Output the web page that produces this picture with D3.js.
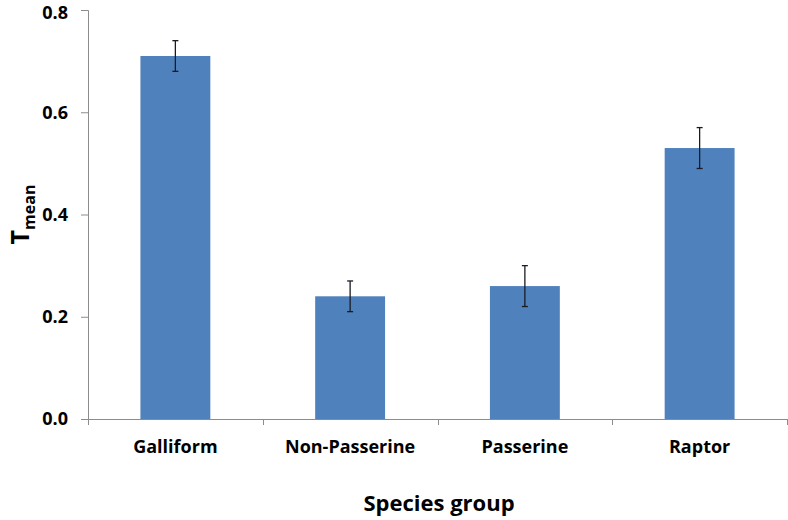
<!DOCTYPE html>
<html><head><meta charset="utf-8">
<script src="https://cdn.jsdelivr.net/npm/d3@7"></script>
<style>body{margin:0;background:#fff;}svg{display:block;font-family:"Open Sans","Liberation Sans",sans-serif;}</style>
</head><body>
<svg id="c" width="788" height="520"></svg>
<script>
const categories = ["Galliform", "Non-Passerine", "Passerine", "Raptor"];
const values = [0.71, 0.24, 0.26, 0.53];
const errors = [0.03, 0.03, 0.04, 0.04];
const yTicks = [0, 0.2, 0.4, 0.6, 0.8];

const svg = d3.select("#c");
const m = {left: 88, right: 1, top: 10, bottom: 101};
const W = 788, H = 520;
const x = d3.scaleBand().domain(categories).range([m.left, W - m.right]).paddingInner(0.6).paddingOuter(0.3);
const xb = d3.scaleBand().domain(categories).range([m.left, W - m.right]);
const y = d3.scaleLinear().domain([0, 0.8]).range([H - m.bottom, m.top]);

// bars
svg.append("g").selectAll("rect").data(categories).join("rect")
  .attr("x", d => x(d)).attr("width", x.bandwidth())
  .attr("y", (d, i) => y(values[i])).attr("height", (d, i) => y(0) - y(values[i]))
  .attr("fill", "#4F81BD");

// error bars
const eg = svg.append("g").attr("stroke", "#1b1b24").attr("stroke-width", 1.3);
categories.forEach((c, i) => {
  const cx = x(c) + x.bandwidth() / 2;
  eg.append("line").attr("x1", cx).attr("x2", cx).attr("y1", y(values[i] + errors[i])).attr("y2", y(values[i] - errors[i]));
  [values[i] + errors[i], values[i] - errors[i]].forEach(v => {
    eg.append("line").attr("x1", cx - 3).attr("x2", cx + 3).attr("y1", y(v)).attr("y2", y(v));
  });
});

// y axis
const ya = svg.append("g").attr("transform", `translate(${m.left},0)`)
  .call(d3.axisLeft(y).tickValues(yTicks).tickFormat(d3.format(".1f")).tickSize(7).tickPadding(13));
ya.select(".domain").attr("stroke", "#8c8c8c");
ya.selectAll(".tick line").attr("stroke", "#8c8c8c");
ya.selectAll(".tick text").attr("font-size", 18).attr("font-weight", "bold").attr("fill", "#000")
  .attr("font-family", "'Open Sans','Liberation Sans',sans-serif")
  .attr("y", d => d === 0.8 ? 3 : 0);

// x axis
const xa = svg.append("g").attr("transform", `translate(0,${y(0)})`)
  .call(d3.axisBottom(xb).tickSize(0).tickPadding(21));
xa.select(".domain").attr("stroke", "#8c8c8c");
xa.selectAll(".tick text").attr("font-size", 18).attr("font-weight", "bold").attr("fill", "#000")
  .attr("font-family", "'Open Sans','Liberation Sans',sans-serif");
// boundary ticks
const bounds = categories.map(c => xb(c)).concat([xb(categories[categories.length - 1]) + xb.bandwidth()]);
svg.append("g").selectAll("line").data(bounds).join("line")
  .attr("x1", d => Math.round(d) + 0.5).attr("x2", d => Math.round(d) + 0.5)
  .attr("y1", y(0)).attr("y2", y(0) + 6).attr("stroke", "#8c8c8c");

// axis titles
svg.append("text").attr("x", 439).attr("y", 511).attr("text-anchor", "middle")
  .attr("font-size", 22).attr("font-weight", "bold").text("Species group");
const yt = svg.append("text").attr("transform", `translate(29,${y(0.4)}) rotate(-90)`).attr("text-anchor", "middle")
  .attr("font-weight", "bold");
yt.append("tspan").attr("font-size", 25).text("T");
yt.append("tspan").attr("font-size", 16).attr("dy", 6).text("mean");
</script>
</body></html>
